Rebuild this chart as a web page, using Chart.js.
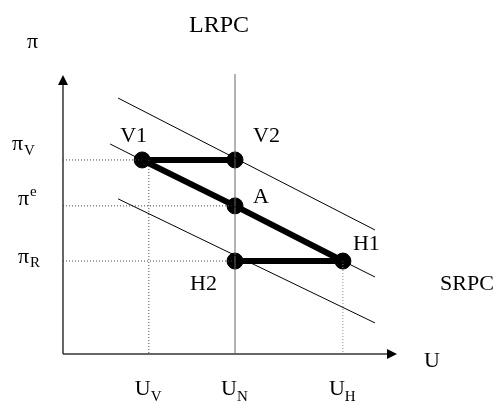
<!DOCTYPE html>
<html>
<head>
<meta charset="utf-8">
<script src="https://cdn.jsdelivr.net/npm/chart.js@4.4.0/dist/chart.umd.min.js"></script>
<style>
html,body{margin:0;padding:0;background:#fff;}
#wrap{width:496px;height:403px;position:relative;}
</style>
</head>
<body>
<div id="wrap"><canvas id="c" width="496" height="403"></canvas></div>
<script>
// ---- data (axis units 0..10) ----
const pointNames = ["V1", "V2", "A", "H1", "H2"];
const pointX = [2.37, 5.15, 5.15, 8.38, 5.15];
const pointY = [6.93, 6.93, 5.29, 3.32, 3.32];

const srpcX = [1.65, 9.34];            // x-extent of short-run curves
const srpcTopY = [9.14, 4.43];
const srpcMidY = [7.50, 2.75];
const srpcLowY = [5.54, 1.11];
const srpcMidX = [1.41, 9.34];

const lrpcX = 5.15;                    // U_N
const uTicks = ["V", "N", "H"];        // subscripts of U ticks
const uTickValues = [2.57, 5.15, 8.38];
const piTicks = ["V", "e", "R"];
const piTickValues = [6.93, 5.29, 3.32];

const pts = pointX.map((x, i) => ({x, y: pointY[i]}));
const P = n => pts[pointNames.indexOf(n)];

const FONT = '"Liberation Serif", "Times New Roman", serif';

const thin = (data, color, dash) => ({
  type: 'line', data, borderColor: color, borderWidth: 1, pointRadius: 0,
  borderDash: dash || [], fill: false, tension: 0, clip: false
});

const datasets = [
  thin([{x: srpcX[0], y: srpcTopY[0]}, {x: srpcX[1], y: srpcTopY[1]}], '#000'),
  thin([{x: srpcMidX[0], y: srpcMidY[0]}, {x: srpcMidX[1], y: srpcMidY[1]}], '#000'),
  thin([{x: srpcX[0], y: srpcLowY[0]}, {x: srpcX[1], y: srpcLowY[1]}], '#000'),
  thin([{x: lrpcX, y: 0}, {x: lrpcX, y: 10}], '#666'),
  // dotted guides
  thin([{x: 0, y: piTickValues[0]}, {x: P("V1").x, y: piTickValues[0]}], '#444', [1, 2]),
  thin([{x: 0, y: piTickValues[1]}, {x: P("A").x, y: piTickValues[1]}], '#444', [1, 2]),
  thin([{x: 0, y: piTickValues[2]}, {x: P("H2").x, y: piTickValues[2]}], '#444', [1, 2]),
  thin([{x: uTickValues[0], y: P("V1").y}, {x: uTickValues[0], y: 0}], '#444', [1, 2]),
  thin([{x: uTickValues[2], y: P("H1").y}, {x: uTickValues[2], y: 0}], '#888', [1, 2]),
  // thick adjustment paths
  {type: 'line', data: [P("V1"), P("V2")], borderColor: '#000', borderWidth: 6, pointRadius: 0, clip: false},
  {type: 'line', data: [P("V1"), P("A"), P("H1")], borderColor: '#000', borderWidth: 6, pointRadius: 0, clip: false},
  {type: 'line', data: [P("H2"), P("H1")], borderColor: '#000', borderWidth: 6, pointRadius: 0, clip: false},
  {type: 'scatter', data: pts, backgroundColor: '#000', borderColor: '#000', pointRadius: 8, pointHoverRadius: 8, clip: false}
];

const labelOffsets = {V1: [-22, -18], V2: [18, -18], A: [18, -3], H1: [10, -11], H2: [-45, 29]};

const decor = {
  id: 'decor',
  beforeDatasetsDraw(chart) {
    const {ctx, chartArea: a} = chart;
    ctx.save();
    ctx.strokeStyle = '#333';
    ctx.fillStyle = '#000';
    ctx.lineWidth = 1.5;
    // y axis
    ctx.beginPath(); ctx.moveTo(a.left, a.bottom); ctx.lineTo(a.left, a.top + 8); ctx.stroke();
    ctx.beginPath(); ctx.moveTo(a.left, a.top + 1); ctx.lineTo(a.left - 5, a.top + 11); ctx.lineTo(a.left + 5, a.top + 11); ctx.closePath(); ctx.fill();
    // x axis
    ctx.beginPath(); ctx.moveTo(a.left, a.bottom); ctx.lineTo(a.right - 8, a.bottom); ctx.stroke();
    ctx.beginPath(); ctx.moveTo(a.right, a.bottom); ctx.lineTo(a.right - 10, a.bottom - 5); ctx.lineTo(a.right - 10, a.bottom + 5); ctx.closePath(); ctx.fill();
    ctx.restore();
  },
  afterDraw(chart) {
    const {ctx, chartArea: a, scales: {x, y}} = chart;
    ctx.save();
    ctx.fillStyle = '#000';
    ctx.textBaseline = 'alphabetic';
    ctx.textAlign = 'left';
    const big = '22px ' + FONT, small = '15px ' + FONT;
    const t = (s, px, py, f) => { ctx.font = f || big; ctx.fillText(s, px, py); };
    // point labels
    pointNames.forEach((n, i) => {
      const o = labelOffsets[n];
      t(n, x.getPixelForValue(pointX[i]) + o[0], y.getPixelForValue(pointY[i]) + o[1]);
    });
    // curve & axis labels
    t('LRPC', x.getPixelForValue(lrpcX) - 46, 32, '24px ' + FONT);
    t('SRPC', 440, 290);
    t('U', a.right + 27, a.bottom + 13);
    t('π', a.left - 36, a.top - 26);
    // pi ticks
    const piOff = [[-51, -10, 13, 5], [-45, 45, 14, -9], [-45, 2, 14, 4]];
    piTickValues.forEach((v, i) => {
      const py = y.getPixelForValue(v);
      const o = piOff[i];
      const bx = a.left + o[0];
      const by = i === 1 ? py - 1 : py + o[1];
      const yy = i === 0 ? py - 10 : by;
      t('π', bx, yy);
      ctx.font = big;
      const w = ctx.measureText('π').width;
      t(piTicks[i], bx + w + 1, yy + o[3], small);
    });
    // U ticks
    uTickValues.forEach((v, i) => {
      const px = x.getPixelForValue(v);
      const bx = px - 14;
      t('U', bx, a.bottom + 41);
      ctx.font = big;
      const w = ctx.measureText('U').width;
      t(uTicks[i], bx + w, a.bottom + 47, small);
    });
    ctx.restore();
  }
};

new Chart(document.getElementById('c'), {
  type: 'scatter',
  data: {datasets},
  options: {
    responsive: false,
    animation: false,
    events: [],
    layout: {padding: {left: 63, right: 99, top: 74, bottom: 49}},
    scales: {
      x: {type: 'linear', min: 0, max: 10, display: false},
      y: {type: 'linear', min: 0, max: 10, display: false}
    },
    plugins: {legend: {display: false}, tooltip: {enabled: false}}
  },
  plugins: [decor]
});
</script>
</body>
</html>
